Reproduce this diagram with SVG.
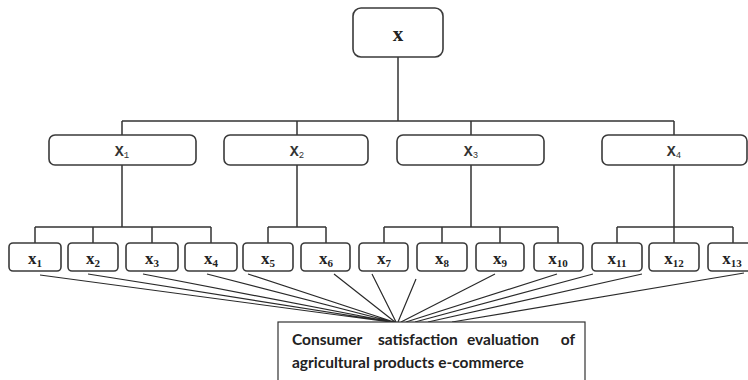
<svg xmlns="http://www.w3.org/2000/svg" width="748" height="380" viewBox="0 0 748 380">
<style>
.box{fill:#fff;stroke:#3a3a3a;stroke-width:1.6}
.ln{fill:none;stroke:#333;stroke-width:1.5}
.fan{fill:none;stroke:#2a2a2a;stroke-width:1.2}
.top{font-family:"Liberation Serif",serif;font-weight:bold;font-size:21px;fill:#222}
.mid{font-family:"Liberation Mono",monospace;font-weight:bold;font-size:15px;fill:#333}
.sub{font-size:9px;font-weight:normal}
.bot{font-family:"Liberation Serif",serif;font-weight:bold;font-size:17px;fill:#222}
.bsub{font-size:11px}
.cap{font-family:Lato,"Open Sans",sans-serif;font-weight:bold;font-size:15.5px;fill:#222}
</style>
<g id="connectors">
<path class="ln" d="M398 57V121M122 121H674M122 121V135M297 121V135M471 121V135M674 121V135"/>
<path class="ln" d="M122 165V227M35 227H211M35 227V243M93 227V243M152 227V243M211 227V243"/>
<path class="ln" d="M297 165V227M268 227H326M268 227V243M326 227V243"/>
<path class="ln" d="M471 165V227M384 227H558M384 227V243M442 227V243M500 227V243M558 227V243"/>
<path class="ln" d="M674 165V227M617 227H733M617 227V243M674 227V243M733 227V243"/>
<path class="fan" d="M40 275L390 322M88 274L391 322M143 274L392 322M207 274L393 322M248 274L394 322M334 274L395 322M372 274L396 322M416 279L398 322M495 274L401 322M557 274L406 322M593 274L415 322M642 274L428 322M744 273L452 322"/>
</g>
<g id="n-x"><rect class="box" x="353" y="8" width="90" height="49" rx="8"/><text class="top" x="398" y="41" text-anchor="middle">x</text></g>
<g id="n-X1"><rect class="box" x="49" y="135" width="147" height="30" rx="6"/><text class="mid" x="122" y="156" text-anchor="middle">X<tspan class="sub" dy="2">1</tspan></text></g>
<g id="n-X2"><rect class="box" x="224" y="135" width="144" height="30" rx="6"/><text class="mid" x="297" y="156" text-anchor="middle">X<tspan class="sub" dy="2">2</tspan></text></g>
<g id="n-X3"><rect class="box" x="397" y="135" width="147" height="30" rx="6"/><text class="mid" x="471" y="156" text-anchor="middle">X<tspan class="sub" dy="2">3</tspan></text></g>
<g id="n-X4"><rect class="box" x="602" y="135" width="145" height="30" rx="6"/><text class="mid" x="674" y="156" text-anchor="middle">X<tspan class="sub" dy="2">4</tspan></text></g>
<g id="n-x1"><rect class="box" x="9" y="243" width="52" height="28" rx="4"/><text class="bot" x="35" y="264" text-anchor="middle">x<tspan class="bsub" dy="3">1</tspan></text></g>
<g id="n-x2"><rect class="box" x="68" y="243" width="50" height="28" rx="4"/><text class="bot" x="93" y="264" text-anchor="middle">x<tspan class="bsub" dy="3">2</tspan></text></g>
<g id="n-x3"><rect class="box" x="126" y="243" width="52" height="28" rx="4"/><text class="bot" x="152" y="264" text-anchor="middle">x<tspan class="bsub" dy="3">3</tspan></text></g>
<g id="n-x4"><rect class="box" x="185" y="243" width="52" height="28" rx="4"/><text class="bot" x="211" y="264" text-anchor="middle">x<tspan class="bsub" dy="3">4</tspan></text></g>
<g id="n-x5"><rect class="box" x="243" y="243" width="50" height="28" rx="4"/><text class="bot" x="268" y="264" text-anchor="middle">x<tspan class="bsub" dy="3">5</tspan></text></g>
<g id="n-x6"><rect class="box" x="301" y="243" width="49" height="28" rx="4"/><text class="bot" x="326" y="264" text-anchor="middle">x<tspan class="bsub" dy="3">6</tspan></text></g>
<g id="n-x7"><rect class="box" x="359" y="243" width="49" height="28" rx="4"/><text class="bot" x="384" y="264" text-anchor="middle">x<tspan class="bsub" dy="3">7</tspan></text></g>
<g id="n-x8"><rect class="box" x="417" y="243" width="50" height="28" rx="4"/><text class="bot" x="442" y="264" text-anchor="middle">x<tspan class="bsub" dy="3">8</tspan></text></g>
<g id="n-x9"><rect class="box" x="476" y="243" width="48" height="28" rx="4"/><text class="bot" x="500" y="264" text-anchor="middle">x<tspan class="bsub" dy="3">9</tspan></text></g>
<g id="n-x10"><rect class="box" x="534" y="243" width="49" height="28" rx="4"/><text class="bot" x="558" y="264" text-anchor="middle">x<tspan class="bsub" dy="3">10</tspan></text></g>
<g id="n-x11"><rect class="box" x="592" y="243" width="50" height="28" rx="4"/><text class="bot" x="617" y="264" text-anchor="middle">x<tspan class="bsub" dy="3">11</tspan></text></g>
<g id="n-x12"><rect class="box" x="649" y="243" width="50" height="28" rx="4"/><text class="bot" x="674" y="264" text-anchor="middle">x<tspan class="bsub" dy="3">12</tspan></text></g>
<g id="n-x13"><rect class="box" x="708" y="243" width="50" height="28" rx="4"/><text class="bot" x="732" y="264" text-anchor="middle">x<tspan class="bsub" dy="3">13</tspan></text></g>
<g id="n-goal">
<rect x="278" y="322" width="307" height="70" fill="#fff" stroke="#333" stroke-width="1.2"/>
<text class="cap" y="345"><tspan x="292">Consumer</tspan><tspan x="378">satisfaction</tspan><tspan x="467">evaluation</tspan><tspan x="575" text-anchor="end">of</tspan></text>
<text class="cap" x="292" y="368">agricultural products e-commerce</text>
</g>
</svg>
